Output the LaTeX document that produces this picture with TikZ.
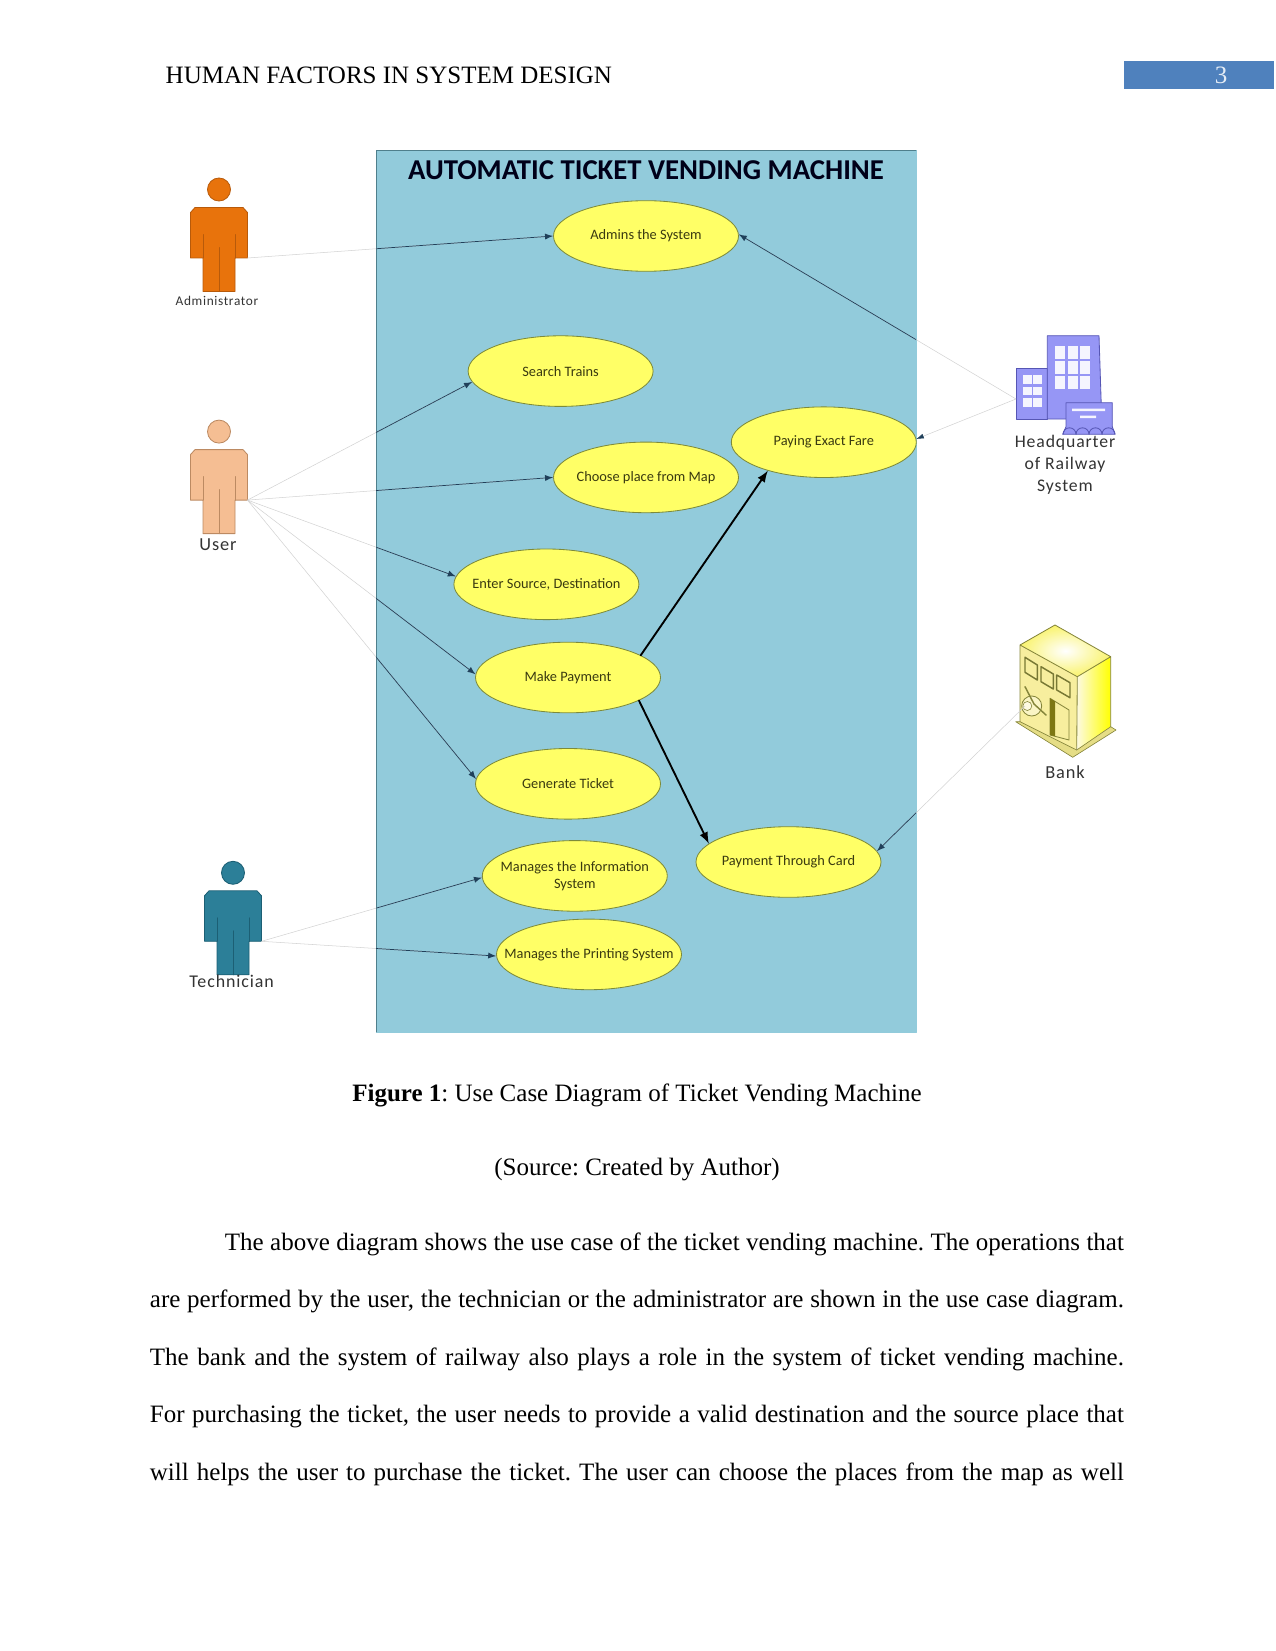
\documentclass[tikz,border=0pt]{standalone}
\usepackage{fontspec}
\setmainfont{Liberation Serif}
\newfontfamily\diagfont{Carlito}
\newfontfamily\iconfont[LetterSpace=5]{Carlito}
\usetikzlibrary{shapes.geometric,arrows.meta}
\frenchspacing
\definecolor{panelblue}{HTML}{92CBDB}
\definecolor{paneledge}{HTML}{4F7F8C}
\definecolor{caseyellow}{HTML}{FFFF66}
\definecolor{caseedge}{HTML}{7D8A3A}
\definecolor{casetext}{HTML}{3A3A10}
\definecolor{wirefaint}{HTML}{D2D2D2}
\definecolor{wiredark}{HTML}{20405A}
\definecolor{barblue}{HTML}{4F81BD}
\definecolor{hqfill}{HTML}{9696F5}
\definecolor{hqedge}{HTML}{5656B4}
\definecolor{adminfill}{HTML}{E8730C}
\definecolor{adminedge}{HTML}{B85A0A}
\definecolor{userfill}{HTML}{F5BE93}
\definecolor{useredge}{HTML}{BC8A62}
\definecolor{techfill}{HTML}{2C7F98}
\definecolor{techedge}{HTML}{1C5F74}
\definecolor{bankface}{HTML}{F7EE9E}
\definecolor{bankedge}{HTML}{85853A}
\tikzset{
  usecase/.style={ellipse,draw=caseedge,line width=.4pt,fill=caseyellow,minimum width=88.8pt,minimum height=33.9pt,inner xsep=-10pt,inner ysep=0pt,align=center,text=casetext,font=\diagfont\fontsize{6.9}{8.2}\selectfont},
  doctext/.style={inner sep=0pt,font=\fontsize{12}{14}\selectfont},
  actorname/.style={inner sep=0pt,text=black!80,align=center},
  thinwire/.style={draw=wirefaint,line width=.25pt},
  darkwire/.style={draw=wiredark,line width=.35pt,->},
  boldwire/.style={draw=black,line width=.9pt,->}
}
\begin{document}
\begin{tikzpicture}[line cap=round,line join=round,>=latex,x=0.48pt,y=-0.48pt]
\useasboundingbox (0,0) rectangle (1275,1651);
\fill[barblue] (1124.4,61) rectangle (1274,89);
\node[doctext,anchor=base west] (runninghead) at (165.3,84) {HUMAN FACTORS IN SYSTEM DESIGN};
\node[doctext,anchor=base,text=white!85!barblue] (pageno) at (1221,84) {3};
\draw[panelblue,fill=panelblue] (376,150.5) rectangle (916,1032);
\draw[paneledge,line width=.4pt] (376,1032) -- (376,150.5) -- (916,150.5);
\node[font=\diagfont\bfseries\fontsize{13.8}{15}\selectfont,text=black!90!blue,inner sep=0pt] (title) at (646,170.5) {AUTOMATIC TICKET VENDING MACHINE};
\foreach \cx/\cy/\fillc/\edgec/\hand in {219/189.5/adminfill/adminedge/adminhand,219/431.6/userfill/useredge/userhand,233/872.8/techfill/techedge/techhand}{
\begin{scope}[shift={(\cx,\cy)}]
\draw[draw=\edgec,fill=\fillc,line width=.4pt] (0,0) circle (11.5);
\draw[draw=\edgec,fill=\fillc,line width=.4pt] (-24,18) -- (24,18) -- (28.5,23) -- (28.5,68.5) -- (16,68.5) -- (16,102) -- (-16,102) -- (-16,68.5) -- (-28.5,68.5) -- (-28.5,23) -- cycle;
\draw[draw=\edgec,line width=.4pt] (-16,45) -- (-16,68.5) (16,45) -- (16,68.5) (0,58) -- (0,102);
\coordinate (\hand) at (28.5,68.5);
\end{scope}
}
\node[actorname,font=\iconfont\fontsize{6.4}{9}\selectfont] (adminname) at (217,301) {Administrator};
\node[actorname,font=\iconfont\fontsize{8.8}{10}\selectfont] (username) at (218,544.5) {User};
\node[actorname,font=\iconfont\fontsize{8.6}{10}\selectfont] (techname) at (231.6,981) {Technician};
\node[usecase] (admins) at (646,236) {Admins the System};
\node[usecase] (search) at (560.6,371.1) {Search Trains};
\node[usecase] (paying) at (823.8,442.2) {Paying Exact Fare};
\node[usecase] (choose) at (646,477.4) {Choose place from Map};
\node[usecase] (enter) at (546.4,584.3) {Enter Source, Destination};
\node[usecase] (make) at (568,677.5) {Make Payment};
\node[usecase] (generate) at (568,783.8) {Generate Ticket};
\node[usecase] (card) at (788.5,862) {Payment Through Card};
\node[usecase] (info) at (574.8,875.9) {Manages the Information\\System};
\node[usecase] (printing) at (589,954.4) {Manages the Printing System};
% headquarter building
\draw[draw=hqedge,fill=hqfill,line width=.4pt] (1016.7,368.7) rectangle (1047.3,419);
\draw[draw=hqedge,fill=hqfill,line width=.4pt] (1047.3,335.7) -- (1099,335.7) -- (1101.7,419) -- (1047.3,419) -- cycle;
\foreach \wx in {1055.3,1067.7,1080}
\foreach \wy in {345.7,360.7,376}
\fill[white!90!hqfill] (\wx,\wy) rectangle +(10,12.8);
\foreach \wx in {1023.3,1033.3}
\foreach \wy in {375.3,386.7,398.3}
\fill[white!90!hqfill] (\wx,\wy) rectangle +(8.3,8.5);
\draw[draw=hqedge,fill=hqfill,line width=.4pt] (1066,402.7) -- (1112.3,402.7) -- (1112.3,426.7) -- (1115,434.3) -- (1062.7,434.3) -- (1066,426.7) -- cycle;
\fill[white!90!hqfill] (1072,408.5) rectangle (1105,411) (1080,415.5) rectangle (1096,418);
\foreach \sx in {1063,1076,1089,1102}
\draw[draw=hqedge,line width=.4pt] (\sx,434.3) arc (180:360:6.5);
\node[actorname,font=\iconfont\fontsize{8.5}{10.6}\selectfont] (hqname) at (1065,464.8) {Headquarter\\of Railway\\System};
\coordinate (hqdoor) at (1016,399);
% bank building
\shade[inner color=white,outer color=bankface!70!yellow] (1055,625) -- (1110.7,656.7) -- (1077.3,676.7) -- (1020,645) -- cycle;
\fill[bankface] (1020,645) -- (1077.3,676.7) -- (1076.7,750) -- (1020,721.7) -- cycle;
\shade[left color=bankface!30!white,right color=yellow] (1077.3,676.7) -- (1110.7,656.7) -- (1110.7,726.7) -- (1076.7,750) -- cycle;
\fill[bankface!85!olive,draw=bankedge,line width=.3pt] (1020,721.7) -- (1015.7,721.7) -- (1072.7,757.3) -- (1116,730) -- (1110.7,726.7) -- (1076.7,750) -- cycle;
\draw[draw=bankedge,line width=.4pt] (1055,625) -- (1110.7,656.7) -- (1110.7,726.7) (1077.3,676.7) -- (1110.7,656.7) (1020,721.7) -- (1020,645) -- (1055,625) (1020,645) -- (1077.3,676.7) -- (1076.7,750);
\foreach \wa/\wb/\wc/\wd in {1025/657.3/1037.3/665,1041/666.7/1053.3/674,1056.7/675/1070/682.7}
\draw[draw=bankedge!90!black,line width=.7pt,fill=bankface] (\wa,\wb) -- (\wc,\wd) -- (\wc,\wd+15) -- (\wa,\wb+15) -- cycle;
\draw[draw=bankedge,line width=.4pt,fill=bankface] (1050,698.3) -- (1069,710) -- (1069,740) -- (1050,735) -- cycle;
\fill[olive!85!black] (1050,698.3) -- (1055,701.4) -- (1055,736.3) -- (1050,735) -- cycle;
\draw[draw=bankedge,line width=.4pt,fill=bankface!60!white] (1031.7,706) circle (10);
\draw[draw=bankedge,line width=.7pt] (1025,686.7) -- (1034,704) -- (1046,715);
\draw[draw=bankedge,line width=.3pt,fill=white!70!bankface] (1027.3,706) circle (4.5);
\node[actorname,font=\iconfont\fontsize{8.8}{10}\selectfont] (bankname) at (1065,771.7) {Bank};
\coordinate (bankdoor) at (1025,706);
\foreach \a/\b in {adminhand/admins.180,userhand/search.187,userhand/choose.180,userhand/enter.175,userhand/make.178,userhand/generate.177,techhand/info.181,techhand/printing.181,hqdoor/admins.1.3,bankdoor/card.7.5}
\draw[thinwire] (\a) -- (\b);
\draw[thinwire,-{Latex[color=wiredark,length=3.6pt,width=2.4pt]}] (hqdoor) -- (paying.2);
\begin{scope}
\clip (376,150.5) rectangle (916,1032);
\foreach \a/\b in {adminhand/admins.180,userhand/search.187,userhand/choose.180,userhand/enter.175,userhand/make.178,userhand/generate.177,techhand/info.181,techhand/printing.181,hqdoor/admins.1.3,bankdoor/card.7.5}
\draw[darkwire] (\a) -- (\b);
\end{scope}
\draw[boldwire] (make.17.4) -- (paying.207.6);
\draw[boldwire] (make.342.6) -- (card.167.3);
\node[doctext,anchor=base] (figcaption) at (637,1101) {\textbf{Figure 1}: Use Case Diagram of Ticket Vending Machine};
\node[doctext,anchor=base] (figsource) at (637,1175) {(Source: Created by Author)};
\node[doctext,anchor=north west,text width=467.5pt,align=justify,font=\fontsize{12}{27.6}\selectfont] (bodytext) at (149.5,1232) {\spaceskip=.25em plus .25em minus .15em\sloppy\hyphenpenalty=10000\hspace*{36pt}The above diagram shows the use case of the ticket vending machine. The operations that\linebreak are performed by the user, the technician or the administrator are shown in the use case diagram.\linebreak The bank and the system of railway also plays a role in the system of ticket vending machine.\linebreak For purchasing the ticket, the user needs to provide a valid destination and the source place that\linebreak will helps the user to purchase the ticket. The user can choose the places from the map as well\linebreak};
\end{tikzpicture}
\end{document}
